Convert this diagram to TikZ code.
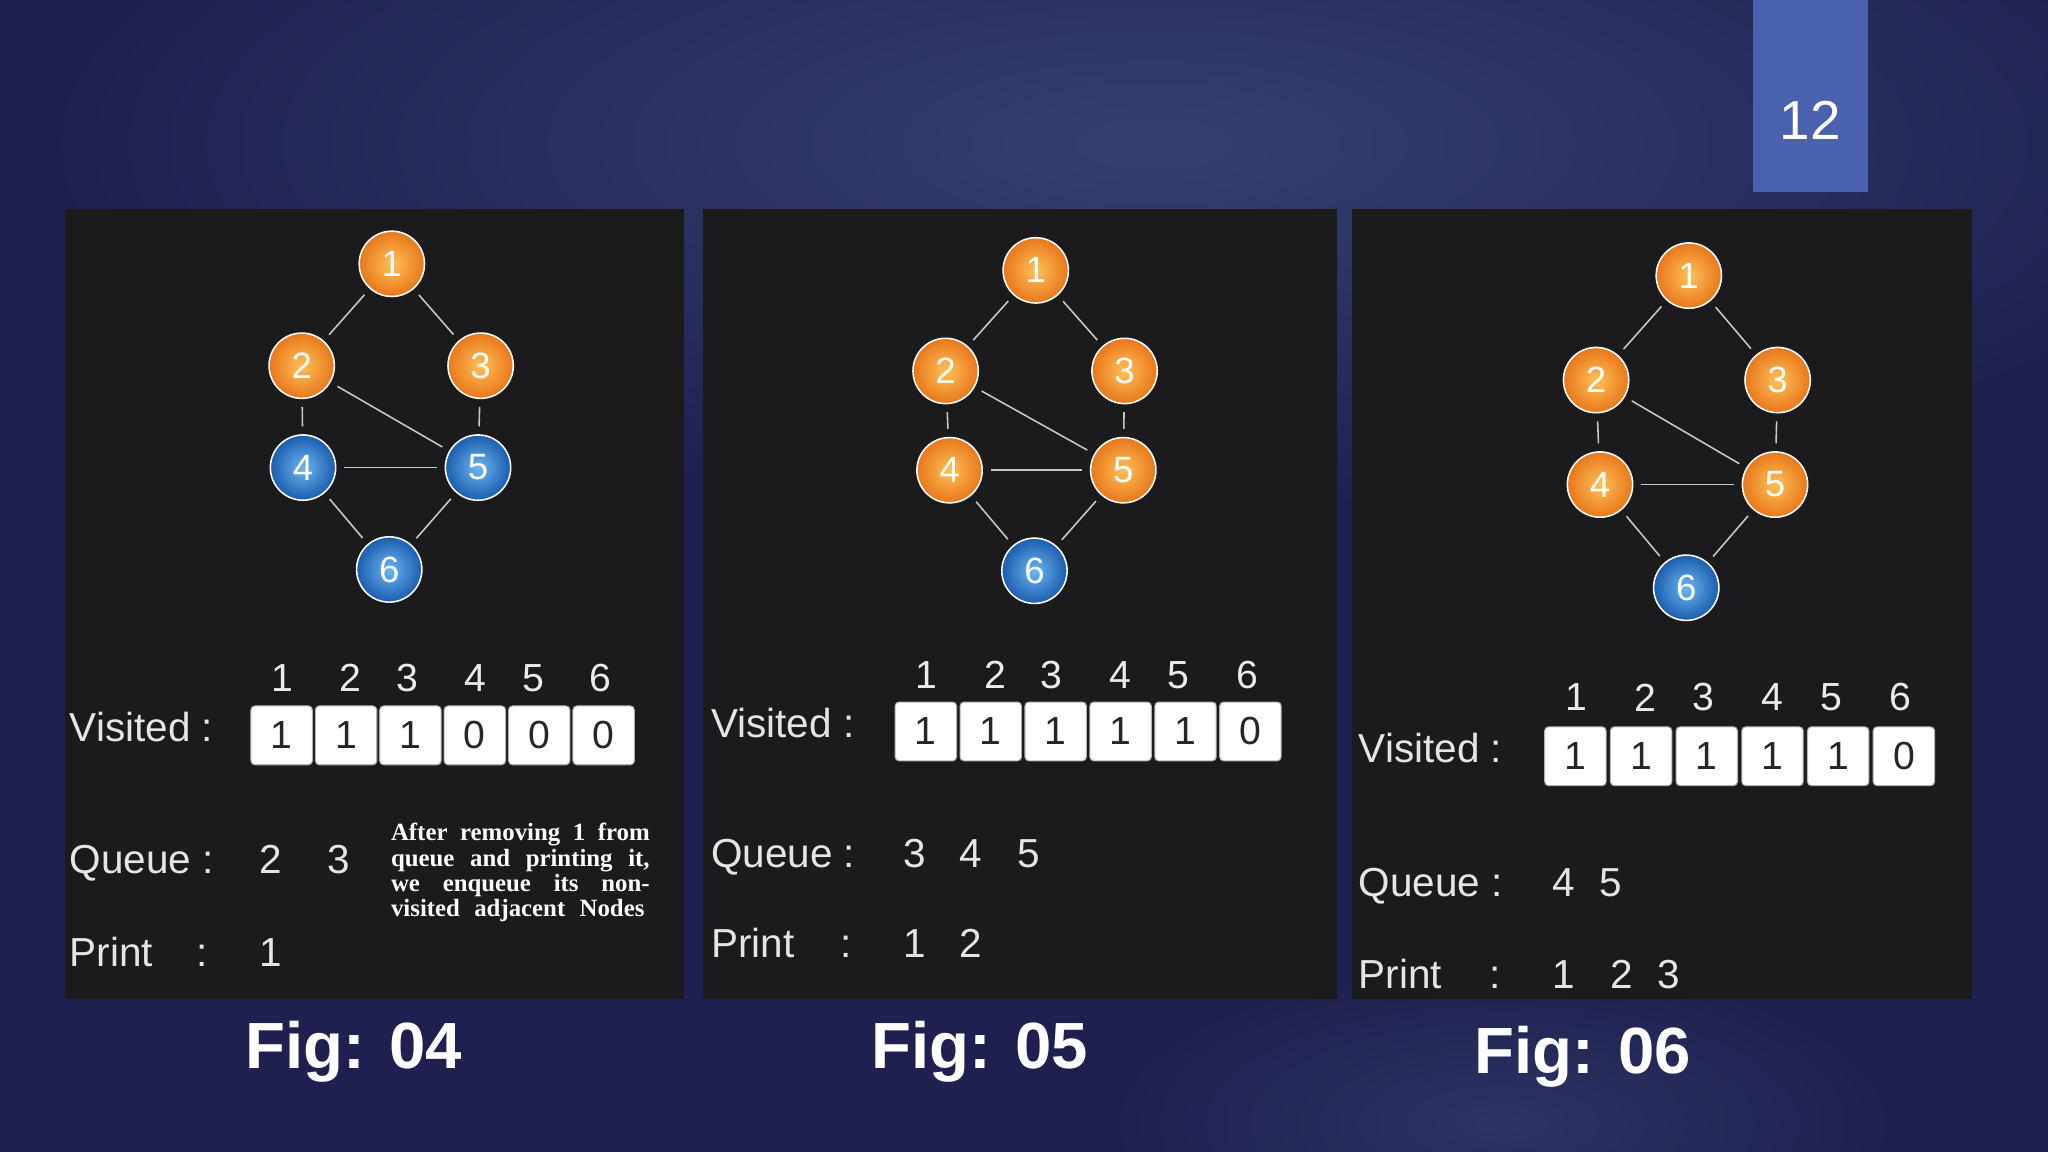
\documentclass[tikz,border=0pt]{standalone}
\usepackage{fontspec}
\setmainfont{Liberation Sans}
\newfontfamily\notefont{Liberation Serif}
\usetikzlibrary{shadings}
\definecolor{bgc}{HTML}{1F2050}
\definecolor{bgl}{HTML}{34416F}
\definecolor{panel}{HTML}{1B1B1D}
\definecolor{badge}{HTML}{4A62AE}
\definecolor{oin}{HTML}{FFC15A}
\definecolor{oout}{HTML}{E8771A}
\definecolor{bin}{HTML}{6CB6EE}
\definecolor{bout}{HTML}{1B5DB0}
\definecolor{edgec}{HTML}{C8C8C8}
\tikzset{
 x=0.5pt,y=-0.5pt,
 gnode/.style={circle,minimum size=25pt,inner sep=0pt,draw=white,line width=0.6pt,text=white,font=\fontsize{14}{14}\selectfont},
 onode/.style={gnode,inner color=oin,outer color=oout},
 bnode/.style={gnode,inner color=bin,outer color=bout},
 gedge/.style={draw=edgec,line width=0.6pt,shorten >=3pt,shorten <=3pt},
 cell/.style={draw=gray!60,fill=white,rounded corners=1.5pt,minimum width=23.5pt,minimum height=22.5pt,inner sep=0pt,font=\fontsize{15}{15}\selectfont,text=black!85},
 hdr/.style={text=white!92!black,font=\fontsize{15}{15}\selectfont,inner sep=0pt},
 lbl/.style={text=white!90!black,font=\fontsize{15.5}{16}\selectfont,anchor=west,inner sep=0pt,text height=11.5pt,text depth=3.5pt},
 val/.style={text=white!90!black,font=\fontsize{15.5}{16}\selectfont,inner sep=0pt,text height=11.5pt,text depth=3.5pt},
 figc/.style={text=white,font=\bfseries\fontsize{25}{25}\selectfont},
}
\newcommand\gedges[1]{%
 \draw[gedge] (#1a)--(#1b); \draw[gedge] (#1a)--(#1c);
 \draw[gedge] (#1b)--(#1d); \draw[gedge] (#1b)--(#1e);
 \draw[gedge] (#1c)--(#1e); \draw[gedge] (#1d)--(#1e);
 \draw[gedge] (#1d)--(#1f); \draw[gedge] (#1e)--(#1f);}
\begin{document}
\begin{tikzpicture}
\useasboundingbox (0,0) rectangle (1568,882);
\fill[bgc] (0,0) rectangle (1568,882);
\shade[inner color=bgl,outer color=bgc] (884,110) ellipse [x radius=850,y radius=280];
\shade[inner color=bgl!60!bgc,outer color=bgc] (1150,860) ellipse [x radius=300,y radius=120];
% badge
\fill[badge] (1342,0) rectangle (1430,147);
\node[text=white,font=\fontsize{21}{21}\selectfont] (badge) at (1386,92) {12};
% panels
\fill[panel] (50,160) rectangle (524,765);
\fill[panel] (538,160) rectangle (1024,765);
\fill[panel] (1035,160) rectangle (1510,765);

% ---------- panel 1
\node[onode] (Aa) at (300,202) {1};
\node[onode] (Ab) at (231,280) {2};
\node[onode] (Ac) at (368,280) {3};
\node[bnode] (Ad) at (232,358) {4};
\node[bnode] (Ae) at (366,358) {5};
\node[bnode] (Af) at (298,436) {6};
\gedges{A}
\foreach \x [count=\i] in {216,268,312,364,408,460} \node[hdr] (Ah\i) at (\x,519) {\i};
\foreach \v [count=\i] in {1,1,1,0,0,0} \node[cell] (Av\i) at ({191+(\i-0.5)*49.3},563) {\v};
\node[lbl] (Avl) at (53,560) {Visited :};
\node[lbl] (Aql) at (53,661) {Queue :};
\node[val] (Aq1) at (207,661) {2};
\node[val] (Aq2) at (259,661) {3};
\node[lbl] (Apl) at (53,732) {Print};
\node[val] (Apc) at (155,732) {:};
\node[val] (Ap1) at (207,732) {1};
\node[anchor=north west,inner sep=0pt,text=white,font=\notefont\bfseries\fontsize{9.5}{8.6}\selectfont,align=left] (note) at (299,630)
 {\makebox[99pt][s]{After removing 1 from}\\\makebox[99pt][s]{queue and printing it,}\\\makebox[99pt][s]{we enqueue its non-}\\\makebox[97pt][s]{visited adjacent Nodes}};

% ---------- panel 2
\node[onode] (Ba) at (793,207) {1};
\node[onode] (Bb) at (724,284) {2};
\node[onode] (Bc) at (861,284) {3};
\node[onode] (Bd) at (727,360) {4};
\node[onode] (Be) at (860,360) {5};
\node[bnode] (Bf) at (792,437) {6};
\gedges{B}
\foreach \x [count=\i] in {709,762,805,858,902,955} \node[hdr] (Bh\i) at (\x,517) {\i};
\foreach \v [count=\i] in {1,1,1,1,1,0} \node[cell] (Bv\i) at ({684+(\i-0.5)*49.7},560) {\v};
\node[lbl] (Bvl) at (544,557) {Visited :};
\node[lbl] (Bql) at (544,656) {Queue :};
\node[val] (Bq1) at (700,656) {3};
\node[val] (Bq2) at (743,656) {4};
\node[val] (Bq3) at (788,656) {5};
\node[lbl] (Bpl) at (544,725) {Print};
\node[val] (Bpc) at (648,725) {:};
\node[val] (Bp1) at (700,725) {1};
\node[val] (Bp2) at (743,725) {2};

% ---------- panel 3
\node[onode] (Ca) at (1293,211) {1};
\node[onode] (Cb) at (1222,291) {2};
\node[onode] (Cc) at (1361,291) {3};
\node[onode] (Cd) at (1225,371) {4};
\node[onode] (Ce) at (1359,371) {5};
\node[bnode] (Cf) at (1291,450) {6};
\gedges{C}
\foreach \x [count=\i] in {1207,1260,1304,1357,1402,1455} \node[hdr] (Ch\i) at (\x,534) {\i};
\foreach \v [count=\i] in {1,1,1,1,1,0} \node[cell] (Cv\i) at ({1181+(\i-0.5)*50.3},579) {\v};
\node[lbl] (Cvl) at (1040,576) {Visited :};
\node[lbl] (Cql) at (1040,678) {Queue :};
\node[val] (Cq1) at (1197,678) {4};
\node[val] (Cq2) at (1233,678) {5};
\node[lbl] (Cpl) at (1040,749) {Print};
\node[val] (Cpc) at (1145,749) {:};
\node[val] (Cp1) at (1197,749) {1};
\node[val] (Cp2) at (1242,749) {2};
\node[val] (Cp3) at (1278,749) {3};

% captions
\node[figc] (f4) at (271,805) {Fig: 04};
\node[figc] (f5) at (750,805) {Fig: 05};
\node[figc] (f6) at (1212,809) {Fig: 06};
\end{tikzpicture}
\end{document}
